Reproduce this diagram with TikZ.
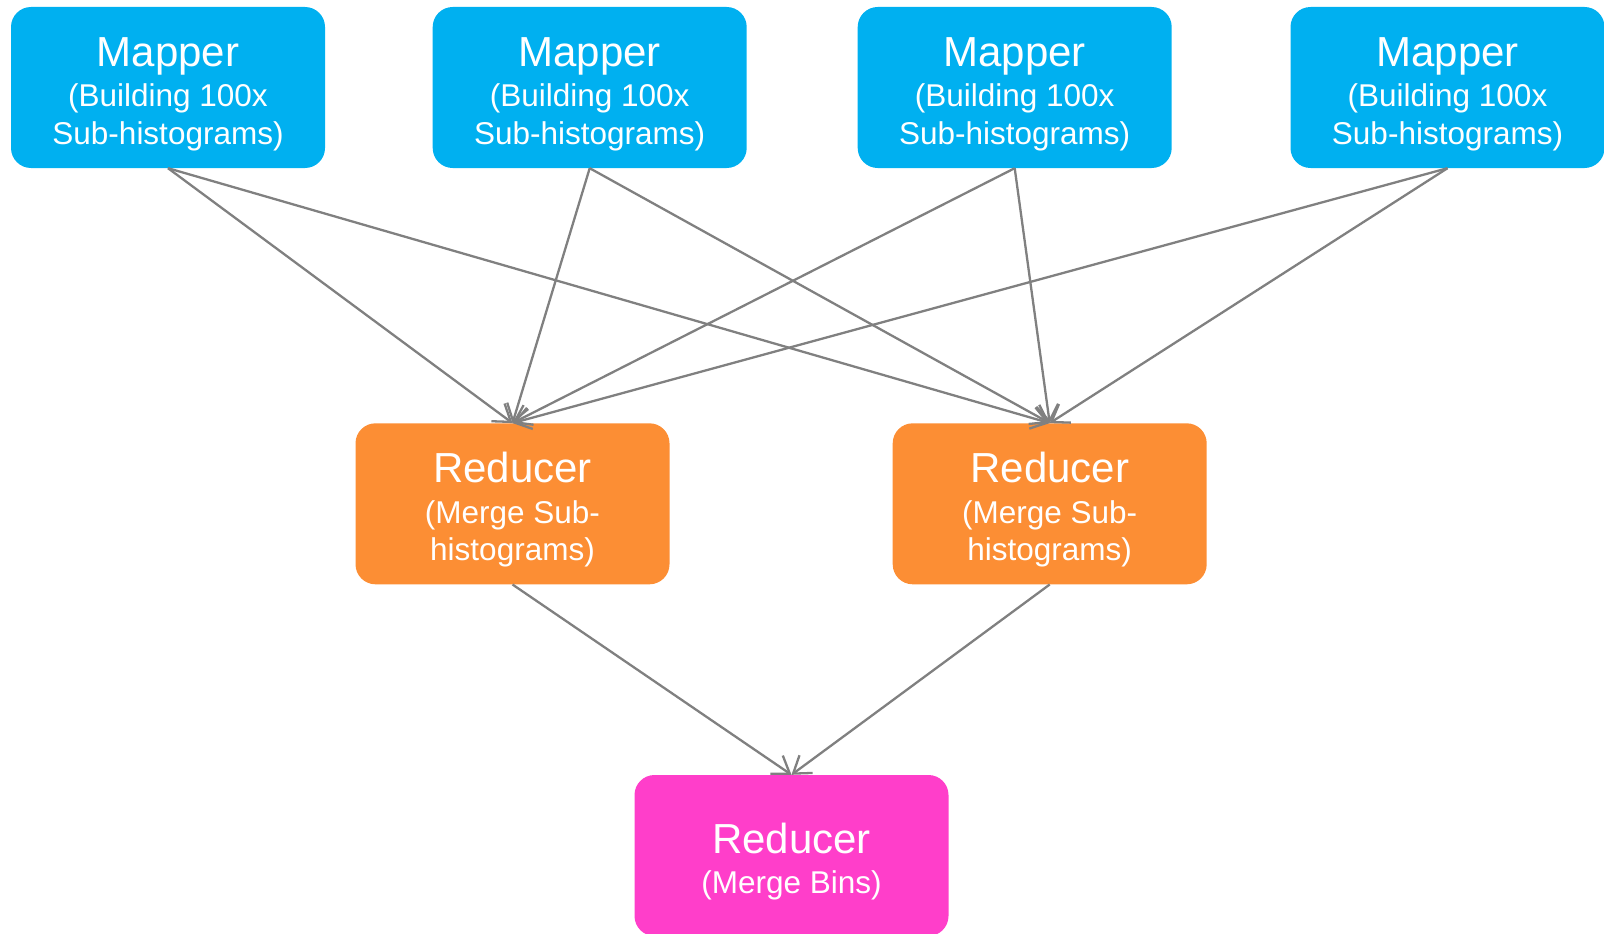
\documentclass[tikz,border=0pt]{standalone}
\usepackage{fontspec}
\setmainfont{Liberation Sans}
\usetikzlibrary{arrows.meta,calc}

\definecolor{mapblue}{RGB}{0,176,240}
\definecolor{redorange}{RGB}{252,142,52}
\definecolor{finalpink}{RGB}{255,62,202}
\definecolor{linkgray}{RGB}{128,128,128}

\tikzset{
  box/.style={rounded corners=20pt, minimum width=314pt, minimum height=161pt,
              inner sep=0pt, draw=none},
  mapbox/.style={box, fill=mapblue},
  redbox/.style={box, fill=redorange},
  finbox/.style={box, fill=finalpink},
  title/.style={anchor=base, inner sep=0pt, text=white,
                font=\fontsize{42}{42}\selectfont},
  sub/.style={anchor=base, inner sep=0pt, text=white,
              font=\fontsize{31.5}{31.5}\selectfont},
  link/.style={draw=linkgray, line width=2.3pt,
               -{Straight Barb[length=16pt,width=22pt]}}
}

\begin{document}
\begin{tikzpicture}[x=1pt,y=-1pt]
\useasboundingbox (0,0) rectangle (1604,934);
\clip (0,0) rectangle (1604,934);

% mappers
\foreach \n/\cx in {1/168, 2/589.7, 3/1014.7, 4/1447.5}{
  \node[mapbox] (m\n) at (\cx,87.5) {};
  \node[title] (m\n a) at ($(m\n.north)+(0,60)$) {Mapper};
  \node[sub]   (m\n b) at ($(m\n.north)+(0,100)$) {(Building 100x};
  \node[sub]   (m\n c) at ($(m\n.north)+(0,137.5)$) {Sub-histograms)};
}

% first-level reducers
\foreach \n/\cx in {1/512.5, 2/1049.7}{
  \node[redbox] (r\n) at (\cx,503.8) {};
  \node[title] (r\n a) at ($(r\n.north)+(0,59)$) {Reducer};
  \node[sub]   (r\n b) at ($(r\n.north)+(0,100)$) {(Merge Sub-};
  \node[sub]   (r\n c) at ($(r\n.north)+(0,137.5)$) {histograms)};
}

% final reducer
\node[finbox] (f) at (791.5,855.5) {};
\node[title] (fa) at ($(f.north)+(0,79)$) {Reducer};
\node[sub]   (fb) at ($(f.north)+(0,119)$) {(Merge Bins)};

% mapper -> reducer links
\foreach \n in {1,2,3,4}{
  \draw[link] (m\n.south) -- (r1.north);
  \draw[link] (m\n.south) -- (r2.north);
}

% reducer -> final links
\draw[link] (r1.south) -- (f.north);
\draw[link] (r2.south) -- (f.north);
\end{tikzpicture}
\end{document}
